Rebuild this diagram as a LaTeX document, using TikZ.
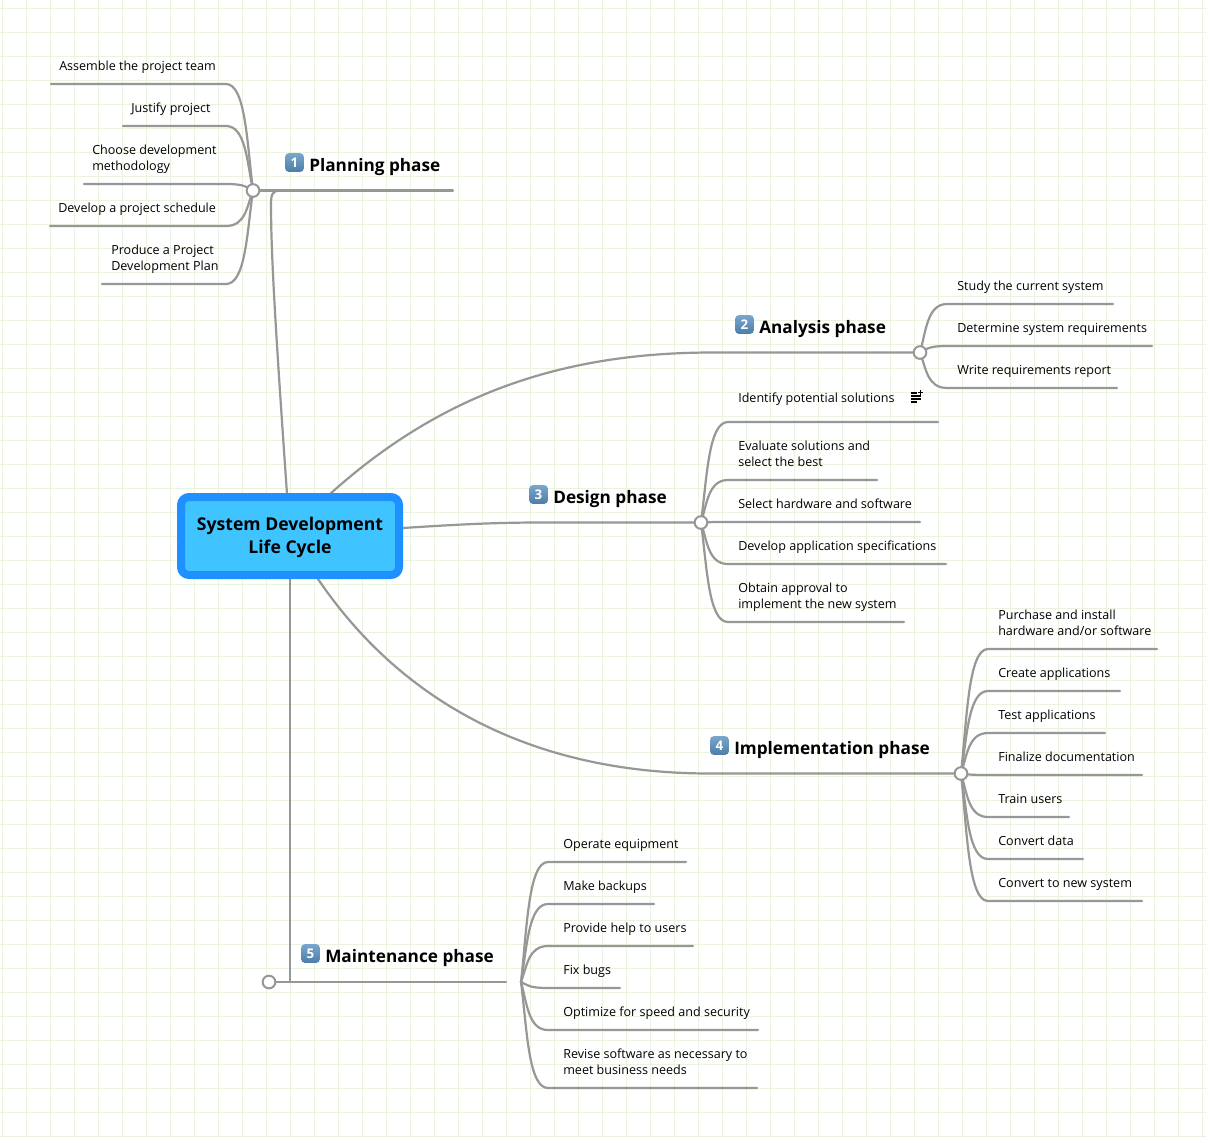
\documentclass[tikz,border=0pt]{standalone}
\usepackage{fontspec}
\setmainfont{Open Sans}
\pgfdeclarelayer{gridlayer}
\pgfdeclarelayer{linelayer}
\pgfsetlayers{gridlayer,linelayer,main}
\definecolor{gridc}{HTML}{E9F3E0}
\definecolor{linec}{HTML}{979795}
\definecolor{rootb}{HTML}{1E90FF}
\definecolor{rootf}{HTML}{40C4FF}
\definecolor{captop}{HTML}{7AA6CC}
\definecolor{capbot}{HTML}{4C7DA8}
\tikzset{
  gridline/.style={draw=gridc,line width=0.75pt},
  conn/.style={draw=linec,line width=1.65pt,line cap=round},
  hubc/.style={circle,draw=linec,fill=white,line width=1.5pt,minimum size=9.5pt,inner sep=0pt},
  leafbox/.style={anchor=west,align=left,inner sep=0pt,font=\fontsize{9.42pt}{12pt}\selectfont,text=black},
  phasebox/.style={anchor=west,inner sep=0pt,font=\fontsize{12.9pt}{16pt}\selectfont\bfseries,text=black},
  keycap/.style={rounded corners=3pt,top color=captop,bottom color=capbot,minimum width=14.2pt,minimum height=14.2pt,inner sep=0pt,text=white,font=\fontsize{10pt}{10pt}\selectfont\bfseries},
  rootbox/.style={draw=rootb,fill=rootf,line width=6pt,rounded corners=6pt,minimum width=163.5pt,minimum height=58.5pt,inner sep=0pt},
  roottext/.style={inner sep=0pt,align=center,font=\fontsize{13.2pt}{17.3pt}\selectfont\bfseries,text=black},
}
% #1 origin name, #2,#3 origin px, #4 side, #5 line y, #6 line end x, #7 name
\newcommand{\leafline}[7]{%
  \coordinate (#7) at (#6,#5);
  \begin{pgfonlayer}{linelayer}
  \pgfmathsetmacro{\cax}{#2+#4*6}
  \pgfmathsetmacro{\cay}{#5+(#3-#5)*0.55}
  \pgfmathsetmacro{\cbx}{#2+#4*7.5}
  \pgfmathsetmacro{\cby}{#5+0}
  \pgfmathsetmacro{\ebx}{#2+#4*27}
  \draw[conn] (#1.center) .. controls (\cax,\cay) and (\cbx,\cby) .. (\ebx,#5) -- (#7);
  \end{pgfonlayer}}
\begin{document}
\begin{tikzpicture}[x=0.75pt,y=-0.75pt]
\useasboundingbox (0,0) rectangle (1206,1136);
\begin{pgfonlayer}{gridlayer}
\fill[white] (0,0) rectangle (1206,1136);
\foreach \gx in {0,...,50} \draw[gridline] ({2.67+24*\gx},0) -- ({2.67+24*\gx},1136);
\foreach \gy in {0,...,47} \draw[gridline] (0,{8.3+24*\gy}) -- (1206,{8.3+24*\gy});
\end{pgfonlayer}

\node[rootbox] (rootn) at (290,536) {};
\node[roottext] (roott) at (290,537.5) {System Development\\Life Cycle};

\node[hubc] (h1) at (253,190.5) {};
\node[hubc] (h2) at (920,352.5) {};
\node[hubc] (h3) at (701,522.5) {};
\node[hubc] (h4) at (961,773.5) {};
\node[hubc] (h5) at (269,982) {};
\coordinate (h5b) at (521,982);
\coordinate (p1e) at (453,190.5);
\coordinate (p5e) at (506,982);
\coordinate (j5) at (290,982);

% main branches
\begin{pgfonlayer}{linelayer}
\draw[conn] (287,494) .. controls (277,350) and (271,260) .. (271,205) .. controls (271,195) and (272,190.5) .. (280,190.5);
\draw[conn] (h1.center) -- (p1e);
\draw[conn] (330,494) .. controls (440,395) and (560,353) .. (710,352.5) -- (h2.center);
\draw[conn] (403,528) .. controls (450,525) and (490,522.5) .. (540,522.5) -- (h3.center);
\draw[conn] (318,579) .. controls (400,700) and (530,773.5) .. (710,773.5) -- (h4.center);
\draw[conn] (290,579) -- (j5);
\draw[conn] (h5.center) -- (p5e);
\end{pgfonlayer}

% phase titles
\node[keycap] (c1) at (294.5,162.5) {1};
\node[phasebox] (t1) at (309,167) {Planning phase};
\node[keycap] (c2) at (744.5,324.5) {2};
\node[phasebox] (t2) at (759,329) {Analysis phase};
\node[keycap] (c3) at (538.5,494.5) {3};
\node[phasebox] (t3) at (553,499) {Design phase};
\node[keycap] (c4) at (719.5,745.5) {4};
\node[phasebox] (t4) at (734,750) {Implementation phase};
\node[keycap] (c5) at (310.5,953.5) {5};
\node[phasebox] (t5) at (325,958) {Maintenance phase};

% planning
\node[leafbox] (a1) at (59,67) {Assemble the project team};
\node[leafbox] (a2) at (131,109) {Justify project};
\node[leafbox] (a3) at (92,159) {Choose development\\methodology};
\node[leafbox] (a4) at (58,209) {Develop a project schedule};
\node[leafbox] (a5) at (111,259) {Produce a Project\\Development Plan};
\leafline{h1}{253}{190.5}{-1}{84}{51}{ae1}
\leafline{h1}{253}{190.5}{-1}{126}{123}{ae2}
\leafline{h1}{253}{190.5}{-1}{184}{84}{ae3}
\leafline{h1}{253}{190.5}{-1}{226}{50}{ae4}
\leafline{h1}{253}{190.5}{-1}{284}{102}{ae5}

% analysis
\node[leafbox] (b1) at (957,287) {Study the current system};
\node[leafbox] (b2) at (957,329) {Determine system requirements};
\node[leafbox] (b3) at (957,371) {Write requirements report};
\leafline{h2}{920}{352.5}{1}{304}{1113}{be1}
\leafline{h2}{920}{352.5}{1}{346}{1152}{be2}
\leafline{h2}{920}{352.5}{1}{388}{1117}{be3}

% design
\node[leafbox] (d1) at (738,399) {Identify potential solutions};
\node[leafbox] (d2) at (738,454) {Evaluate solutions and\\select the best};
\node[leafbox] (d3) at (738,504) {Select hardware and software};
\node[leafbox] (d4) at (738,547) {Develop application specifications};
\node[leafbox] (d5) at (738,597) {Obtain approval to\\implement the new system};
\leafline{h3}{701}{522.5}{1}{422}{938}{de1}
\leafline{h3}{701}{522.5}{1}{480}{877}{de2}
\leafline{h3}{701}{522.5}{1}{522}{920}{de3}
\leafline{h3}{701}{522.5}{1}{564}{946}{de4}
\leafline{h3}{701}{522.5}{1}{622}{904}{de5}
% note icon
\begin{scope}[line width=1pt,black]
\draw (910.5,393) -- (917,393);
\draw (910.5,396) -- (921,396);
\draw (910.5,399) -- (921,399);
\draw (910.5,402) -- (917,402);
\draw (920.5,390.3) -- (920.5,394.6);
\draw (918.3,392.5) -- (922.7,392.5);
\end{scope}

% implementation
\node[leafbox] (i1) at (998,623) {Purchase and install\\hardware and/or software};
\node[leafbox] (i2) at (998,674) {Create applications};
\node[leafbox] (i3) at (998,716) {Test applications};
\node[leafbox] (i4) at (998,757) {Finalize documentation};
\node[leafbox] (i5) at (998,799) {Train users};
\node[leafbox] (i6) at (998,841) {Convert data};
\node[leafbox] (i7) at (998,884) {Convert to new system};
\leafline{h4}{961}{773.5}{1}{649}{1157}{ie1}
\leafline{h4}{961}{773.5}{1}{691}{1120}{ie2}
\leafline{h4}{961}{773.5}{1}{733}{1105}{ie3}
\leafline{h4}{961}{773.5}{1}{775}{1142}{ie4}
\leafline{h4}{961}{773.5}{1}{817}{1069}{ie5}
\leafline{h4}{961}{773.5}{1}{859}{1083}{ie6}
\leafline{h4}{961}{773.5}{1}{901}{1142}{ie7}

% maintenance
\node[leafbox] (m1) at (563,845) {Operate equipment};
\node[leafbox] (m2) at (563,887) {Make backups};
\node[leafbox] (m3) at (563,929) {Provide help to users};
\node[leafbox] (m4) at (563,971) {Fix bugs};
\node[leafbox] (m5) at (563,1013) {Optimize for speed and security};
\node[leafbox] (m6) at (563,1062) {Revise software as necessary to\\meet business needs};
\leafline{h5b}{521}{982}{1}{862}{686}{me1}
\leafline{h5b}{521}{982}{1}{904}{654}{me2}
\leafline{h5b}{521}{982}{1}{946}{693}{me3}
\leafline{h5b}{521}{982}{1}{988}{620}{me4}
\leafline{h5b}{521}{982}{1}{1030}{758}{me5}
\leafline{h5b}{521}{982}{1}{1088}{757}{me6}
\end{tikzpicture}
\end{document}
